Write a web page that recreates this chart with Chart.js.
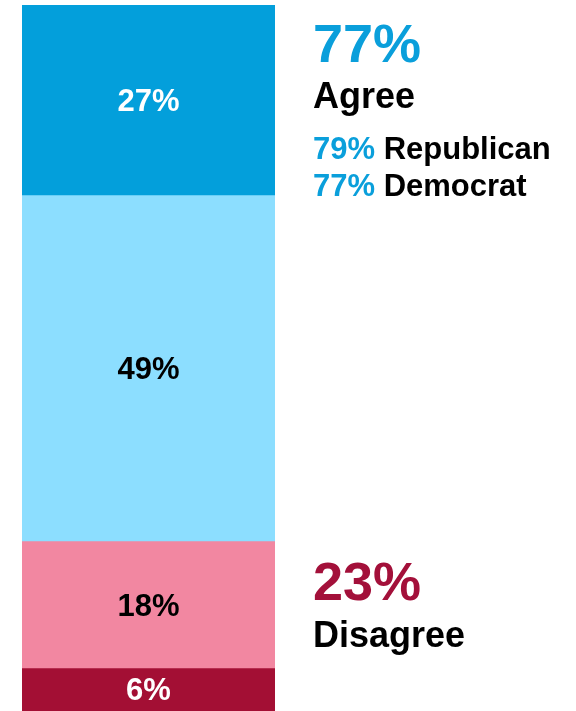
<!DOCTYPE html>
<html>
<head>
<meta charset="utf-8">
<script src="https://cdn.jsdelivr.net/npm/chart.js@4"></script>
<style>
  html, body { margin: 0; padding: 0; background: #fff; }
  #wrap { width: 576px; height: 711px; }
</style>
</head>
<body>
<div id="wrap"><canvas id="stackChart" width="576" height="711"></canvas></div>
<script>
// segments, bottom to top
const segmentLabels = ['Strongly disagree', 'Somewhat disagree', 'Somewhat agree', 'Strongly agree'];
const segmentValues = [6, 18, 49, 27];
const segmentColors = ['#A30F34', '#F287A1', '#8CDEFF', '#039FDB'];
const segmentTextColors = ['#ffffff', '#000000', '#000000', '#ffffff'];

// summary block on the right
const summaryLabels = ['Agree', 'Disagree'];
const summaryValues = [77, 23];
const summaryColors = ['#0A9FDB', '#A3103A'];
const partyLabels = ['Republican', 'Democrat'];
const partyValues = [79, 77];

const FONT = '"Liberation Sans", Arial, Helvetica, sans-serif';

const barLabels = {
  id: 'barLabels',
  afterDatasetsDraw(chart) {
    const ctx = chart.ctx;
    ctx.save();
    ctx.textAlign = 'center';
    ctx.textBaseline = 'middle';
    ctx.font = 'bold 31px ' + FONT;
    chart.data.datasets.forEach((ds, i) => {
      const bar = chart.getDatasetMeta(i).data[0];
      const mid = (bar.y + bar.base) / 2;
      ctx.fillStyle = segmentTextColors[i];
      ctx.fillText(ds.data[0] + '%', bar.x, mid + 2);
    });
    ctx.restore();
  }
};

const sideNotes = {
  id: 'sideNotes',
  afterDraw(chart) {
    const ctx = chart.ctx;
    const x = chart.chartArea.right + 38;
    ctx.save();
    ctx.textAlign = 'left';
    ctx.textBaseline = 'alphabetic';

    // agree
    ctx.font = 'bold 54px ' + FONT;
    ctx.fillStyle = summaryColors[0];
    ctx.fillText(summaryValues[0] + '%', x, 62);
    ctx.font = 'bold 36px ' + FONT;
    ctx.fillStyle = '#000';
    ctx.fillText(summaryLabels[0], x, 108);

    ctx.font = 'bold 31px ' + FONT;
    const rows = [159, 196];
    partyLabels.forEach((p, i) => {
      const pct = partyValues[i] + '%';
      ctx.fillStyle = summaryColors[0];
      ctx.fillText(pct, x, rows[i]);
      const w = ctx.measureText(pct + ' ').width;
      ctx.fillStyle = '#000';
      ctx.fillText(p, x + w, rows[i]);
    });

    // disagree
    ctx.font = 'bold 54px ' + FONT;
    ctx.fillStyle = summaryColors[1];
    ctx.fillText(summaryValues[1] + '%', x, 600);
    ctx.font = 'bold 36px ' + FONT;
    ctx.fillStyle = '#000';
    ctx.fillText(summaryLabels[1], x, 647);
    ctx.restore();
  }
};

new Chart(document.getElementById('stackChart'), {
  type: 'bar',
  data: {
    labels: [''],
    datasets: segmentValues.map((v, i) => ({
      label: segmentLabels[i],
      data: [v],
      backgroundColor: segmentColors[i],
      borderWidth: 0,
      barPercentage: 1,
      categoryPercentage: 1
    }))
  },
  options: {
    responsive: false,
    animation: false,
    layout: { padding: { left: 22, right: 301, top: 5, bottom: 0 } },
    plugins: { legend: { display: false }, tooltip: { enabled: false } },
    scales: {
      x: { stacked: true, display: false },
      y: { stacked: true, display: false, min: 0, max: 100 }
    }
  },
  plugins: [barLabels, sideNotes]
});
</script>
</body>
</html>
